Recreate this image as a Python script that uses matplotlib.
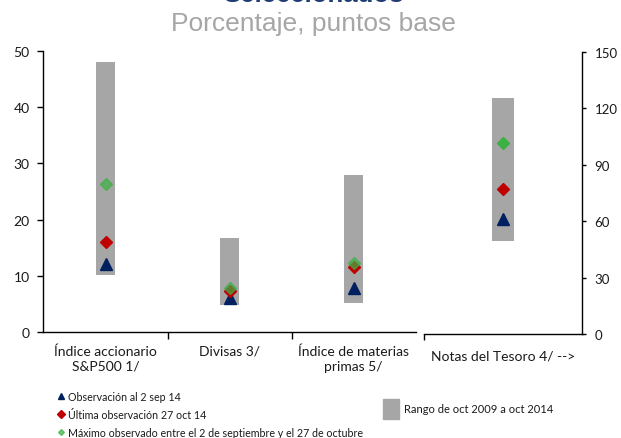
import matplotlib
matplotlib.use("Agg")
import matplotlib.pyplot as plt
from matplotlib.lines import Line2D
from matplotlib.patches import Rectangle

plt.rcParams['font.family'] = ['Lato', 'DejaVu Sans']

# Left panel: percentage variables
categorias = ["Índice accionario\nS&P500 1/", "Divisas 3/", "Índice de materias\nprimas 5/"]
rango_min = [10.2, 4.8, 5.2]
rango_max = [48.0, 16.7, 27.9]
obs_2sep = [12.1, 6.0, 7.8]
obs_27oct = [16.0, 7.3, 11.5]
maximo = [26.3, 7.8, 12.3]

# Right panel: basis points
categoria_der = ["Notas del Tesoro 4/ -->"]
rango_min_der = [49.4]
rango_max_der = [125.3]
obs_2sep_der = [61.3]
obs_27oct_der = [77.3]
maximo_der = [101.6]

yticks_izq = [0, 10, 20, 30, 40, 50]
yticks_der = [0, 30, 60, 90, 120, 150]

GRIS = '#a6a6a6'
AZUL = '#002060'
ROJO = '#c00000'
VERDE = '#3cb043'
TXT = '#1a1a1a'

fig = plt.figure(figsize=(6.21, 4.39), dpi=100)

ax = fig.add_axes([0.0700, 0.2408, 0.5994, 0.6417])
axr = fig.add_axes([0.6833, 0.2358, 0.2531, 0.6442])

# ---- left panel
x = list(range(len(categorias)))
alturas = [hi - lo for lo, hi in zip(rango_min, rango_max)]
ax.bar(x, alturas, bottom=rango_min, width=0.153, color=GRIS, zorder=1)
ax.plot(x, obs_2sep, linestyle='none', marker='^', ms=8.5, color=AZUL, zorder=3)
ax.plot(x, obs_27oct, linestyle='none', marker='D', ms=6.5, color=ROJO, zorder=4)
ax.plot(x, maximo, linestyle='none', marker='D', ms=6.5, color=VERDE, alpha=0.7, zorder=5)

ax.set_xlim(-0.5, len(categorias) - 0.5)
ax.set_ylim(0, 50)
ax.set_yticks(yticks_izq)
ax.set_xticks([i + 0.5 for i in x[:-1]])
ax.set_xticklabels([])
ax.set_xticks(x, minor=True)
ax.set_xticklabels(categorias, minor=True, fontsize=10, color=TXT, linespacing=1.25)
ax.tick_params(axis='x', which='major', direction='out', length=5, width=1, color='black')
ax.tick_params(axis='x', which='minor', length=0, pad=9)
ax.tick_params(axis='y', direction='out', length=4, width=1, pad=6, labelsize=10, labelcolor=TXT)
for s in ['top', 'right']:
    ax.spines[s].set_visible(False)
for s in ['left', 'bottom']:
    ax.spines[s].set_linewidth(1)

# ---- right panel
xr = list(range(len(categoria_der)))
alturas_der = [hi - lo for lo, hi in zip(rango_min_der, rango_max_der)]
axr.bar(xr, alturas_der, bottom=rango_min_der, width=0.142, color=GRIS, zorder=1)
axr.plot(xr, obs_2sep_der, linestyle='none', marker='^', ms=8.5, color=AZUL, zorder=3)
axr.plot(xr, obs_27oct_der, linestyle='none', marker='D', ms=6.5, color=ROJO, zorder=4)
axr.plot(xr, maximo_der, linestyle='none', marker='D', ms=6.5, color=VERDE, zorder=5)

axr.set_xlim(-0.5, 0.5)
axr.set_ylim(0, 150)
axr.set_yticks(yticks_der)
axr.yaxis.tick_right()
axr.set_xticks([-0.5])
axr.set_xticklabels([])
axr.set_xticks(xr, minor=True)
axr.set_xticklabels(categoria_der, minor=True, fontsize=10, color=TXT)
axr.tick_params(axis='x', which='major', direction='out', length=4, width=1)
axr.tick_params(axis='x', which='minor', length=0, pad=11)
axr.tick_params(axis='y', direction='out', length=3, width=1, pad=6.5, labelsize=9.5, labelcolor=TXT)
for s in ['top', 'left']:
    axr.spines[s].set_visible(False)
for s in ['right', 'bottom']:
    axr.spines[s].set_linewidth(1)

# ---- titles
fig.text(0.505, 0.9955, "Seleccionados", ha='center', va='baseline',
         fontsize=18.5, fontweight='bold', color='#1f3c74', family='Liberation Sans')
fig.text(0.505, 0.9294, "Porcentaje, puntos base", ha='center', va='baseline',
         fontsize=19, color='#a6a6a6', family='Liberation Sans')

# ---- legend
handles = [
    Line2D([], [], linestyle='none', marker='^', ms=5, color=AZUL),
    Line2D([], [], linestyle='none', marker='D', ms=4, color=ROJO),
    Line2D([], [], linestyle='none', marker='D', ms=3, color=VERDE, alpha=0.7),
]
etiquetas = ["Observación al 2 sep 14", "Última observación 27 oct 14",
             "Máximo observado entre el 2 de septiembre y el 27 de octubre"]
fig.legend(handles, etiquetas, loc='upper left', bbox_to_anchor=(0.093, 0.108),
           frameon=False, fontsize=7.7, handlelength=0.6, handletextpad=0.35,
           labelspacing=0.66, borderpad=0, borderaxespad=0, labelcolor=TXT)
fig.legend([Rectangle((0, 0), 1, 1, color=GRIS)], ["Rango de oct 2009 a oct 2014"],
           loc='center left', bbox_to_anchor=(0.616, 0.066), frameon=False,
           fontsize=8, handlelength=1.45, handleheight=2.3, handletextpad=0.45,
           borderpad=0, borderaxespad=0, labelcolor=TXT)

fig.savefig("out.png", dpi=100)
